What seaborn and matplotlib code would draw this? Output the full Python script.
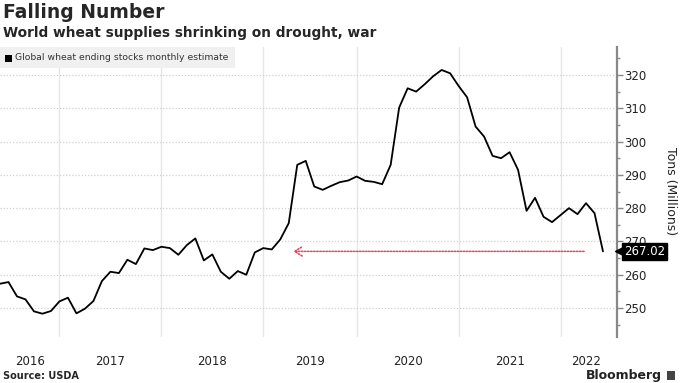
import matplotlib
matplotlib.use('Agg')
import matplotlib.pyplot as plt
from matplotlib.patches import Rectangle
import numpy as np
import pandas as pd
import seaborn as sns

# --- Data ---
stocks = [257.3, 257.8, 253.5, 252.6, 249.0, 248.3, 249.1,
          252.0, 253.1, 248.4, 249.8, 252.1, 258.1, 260.9, 260.5, 264.5, 263.2, 267.9, 267.4,
          268.4, 268.0, 266.0, 268.9, 270.9, 264.3, 266.1, 260.9, 258.8, 261.1, 260.0, 266.7,
          268.0, 267.6, 270.6, 275.5, 293.0, 294.2, 286.5, 285.5, 286.7, 287.8, 288.3,
          289.5, 288.2, 287.9, 287.2, 293.0, 310.2, 316.0, 315.0, 317.2, 319.6, 321.5, 320.5,
          316.7, 313.3, 304.5, 301.5, 295.7, 295.0, 296.8, 291.5, 279.2, 283.1, 277.4, 275.8,
          277.9, 280.0, 278.2, 281.5, 278.5, 267.02]
years = [2016, 2017, 2018, 2019, 2020, 2021, 2022]
points_per_year = [7, 12, 12, 11, 12, 12, 6]
last_value = stocks[-1]
arrow_from, arrow_to = 69.1, 34.2   # red reference arrow span (point index)

W, H = 680, 383

sns.set_theme(style='white')
plt.rcParams['font.family'] = ['DejaVu Sans']

fig = plt.figure(figsize=(W / 100, H / 100), dpi=100)
ax = fig.add_axes([0, 1 - 337 / H, 617 / W, 290 / H])

df = pd.DataFrame({'idx': np.arange(len(stocks)), 'stocks': stocks})
sns.lineplot(data=df, x='idx', y='stocks', ax=ax, color='black', lw=1.3, zorder=3)

ax.set_xlim(0, 72.65)
ax.set_ylim(241.3, 328.4)

# year boundaries / label centres
starts = np.cumsum([0] + points_per_year[:-1])
ends = starts + np.array(points_per_year)
ax.set_xticks((starts + ends) / 2)
ax.set_xticklabels([str(y) for y in years])
ax.set_xticks(starts[1:], minor=True)
ax.grid(axis='x', which='minor', color='#e6e6e6', lw=1, ls='-')
ax.grid(axis='x', which='major', visible=False)
ax.tick_params(axis='x', which='both', length=0, pad=13, labelsize=8.5, colors='#222222')

# right-hand y axis
ax.yaxis.tick_right()
ax.set_yticks(np.arange(250, 321, 10))
ax.set_yticks(np.arange(245, 328, 5), minor=True)
ax.grid(axis='y', which='major', color='#d0d0d0', lw=0.9, ls=(0, (1, 1.5)))
ax.tick_params(axis='y', which='major', length=4, width=1, direction='out',
               color='#888888', labelsize=8.5, labelcolor='#222222', pad=1)
ax.tick_params(axis='y', which='minor', length=2.5, width=1, direction='out', color='#888888')
ax.set_xlabel('')
ax.set_ylabel('')
for side in ['left', 'top', 'bottom']:
    ax.spines[side].set_visible(False)
ax.spines['right'].set_color('#888888')
ax.spines['right'].set_linewidth(1.6)

# red dotted arrow back to the same level
ax.annotate('', xy=(arrow_to, last_value), xytext=(arrow_from, last_value),
            arrowprops=dict(arrowstyle='->,head_length=0.45,head_width=0.28',
                            color='#f04060', lw=1.1, ls=(0, (1, 1))), zorder=2)

# last value tag (sits over the 270 label, as in the original)
ax.plot([1.003], [last_value], marker='<', ms=6, color='black',
        transform=ax.get_yaxis_transform(), clip_on=False, zorder=10)
ax.annotate(f'{last_value:.2f}', xy=(1, last_value), xycoords=('axes fraction', 'data'),
            xytext=(5, 0), textcoords='offset points', va='center', ha='left',
            color='white', fontsize=8.5, zorder=10,
            bbox=dict(boxstyle='square,pad=0.15', fc='black', ec='black'))

fig.text(670 / W, 1 - 191 / H, 'Tons (Millions)', rotation=270, ha='center', va='center',
         fontsize=9, color='#222222')

# titles
fig.text(3 / W, 1 - 3 / H, 'Falling Number', fontsize=13.5, fontweight='bold', va='top')
fig.text(3 / W, 1 - 26 / H, 'World wheat supplies shrinking on drought, war',
         fontsize=9.9, fontweight='bold', va='top')

# legend box
fig.patches.append(Rectangle((0, 1 - 68 / H), 235 / W, 21 / H, transform=fig.transFigure,
                             fc='#f0f0f0', ec='none', zorder=5))
fig.patches.append(Rectangle((5 / W, 1 - 62 / H), 7 / W, 7 / H, transform=fig.transFigure,
                             fc='black', ec='none', zorder=6))
fig.text(15 / W, 1 - 58 / H, 'Global wheat ending stocks monthly estimate',
         fontsize=6.7, color='#333333', va='center', zorder=7)

# footer
fig.text(3 / W, 1 - 376 / H, 'Source: USDA', fontsize=7, fontweight='bold', va='center')
fig.text(662 / W, 1 - 375 / H, 'Bloomberg', fontsize=9, fontweight='bold', va='center',
         ha='right', color='#222222')
fig.patches.append(Rectangle((667 / W, 1 - 380 / H), 8 / W, 9 / H, transform=fig.transFigure,
                             fc='#444444', ec='none'))

fig.savefig('out.png', dpi=100)
